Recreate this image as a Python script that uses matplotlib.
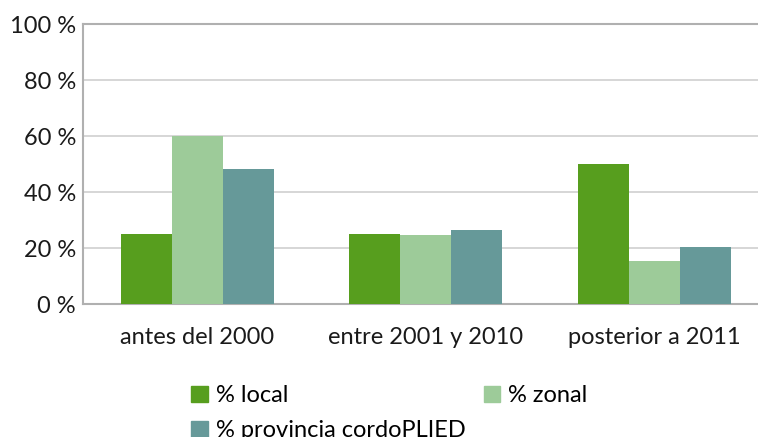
import numpy as np
import matplotlib.pyplot as plt
from matplotlib.patches import Patch

plt.rcParams['font.family'] = ['Lato', 'DejaVu Sans']

# data
categorias = ['antes del 2000', 'entre 2001 y 2010', 'posterior a 2011']
local = [25.0, 25.0, 50.0]
zonal = [60.0, 24.6, 15.4]
provincia = [48.2, 26.4, 20.4]
series = ['% local', '% zonal', '% provincia cordoPLIED']
colores = ['#579E1E', '#9DCB99', '#669999']

fig = plt.figure(figsize=(7.58, 4.37), dpi=100)
ax = fig.add_axes([0.1095, 0.3043, 0.9044, 0.6407])

x = np.arange(len(categorias))
w = 0.223
for i, vals in enumerate([local, zonal, provincia]):
    ax.bar(x + (i - 1) * w, vals, width=w, color=colores[i], zorder=3)

ax.set_xlim(-0.5, len(categorias) - 0.5)
ax.set_ylim(0, 100)
ax.set_yticks(np.arange(0, 101, 20))
ax.set_yticklabels([f'{v} %' for v in range(0, 101, 20)], fontsize=17)
ax.set_xticks(x)
ax.set_xticklabels(categorias, fontsize=17)
ax.tick_params(axis='both', length=0, colors='#1a1a1a')
ax.tick_params(axis='y', pad=5)
ax.tick_params(axis='x', pad=16.5)

ax.yaxis.grid(True, color='#CFCFCF', lw=1.2, zorder=0)
for s in ['top', 'bottom', 'left']:
    ax.spines[s].set_color('#B0B0B0')
    ax.spines[s].set_linewidth(1.5)
ax.spines['right'].set_visible(False)

handles = [Patch(color=colores[0], label=series[0]),
           Patch(color=colores[2], label=series[2]),
           Patch(color=colores[1], label=series[1])]
fig.legend(handles=handles, loc='upper left', bbox_to_anchor=(0.237, 0.146),
           ncol=2, frameon=False, fontsize=17, handlelength=0.68, handleheight=0.68,
           handletextpad=0.34, columnspacing=0.8, labelspacing=0.6, borderpad=0)

fig.savefig('out.png', dpi=100)
